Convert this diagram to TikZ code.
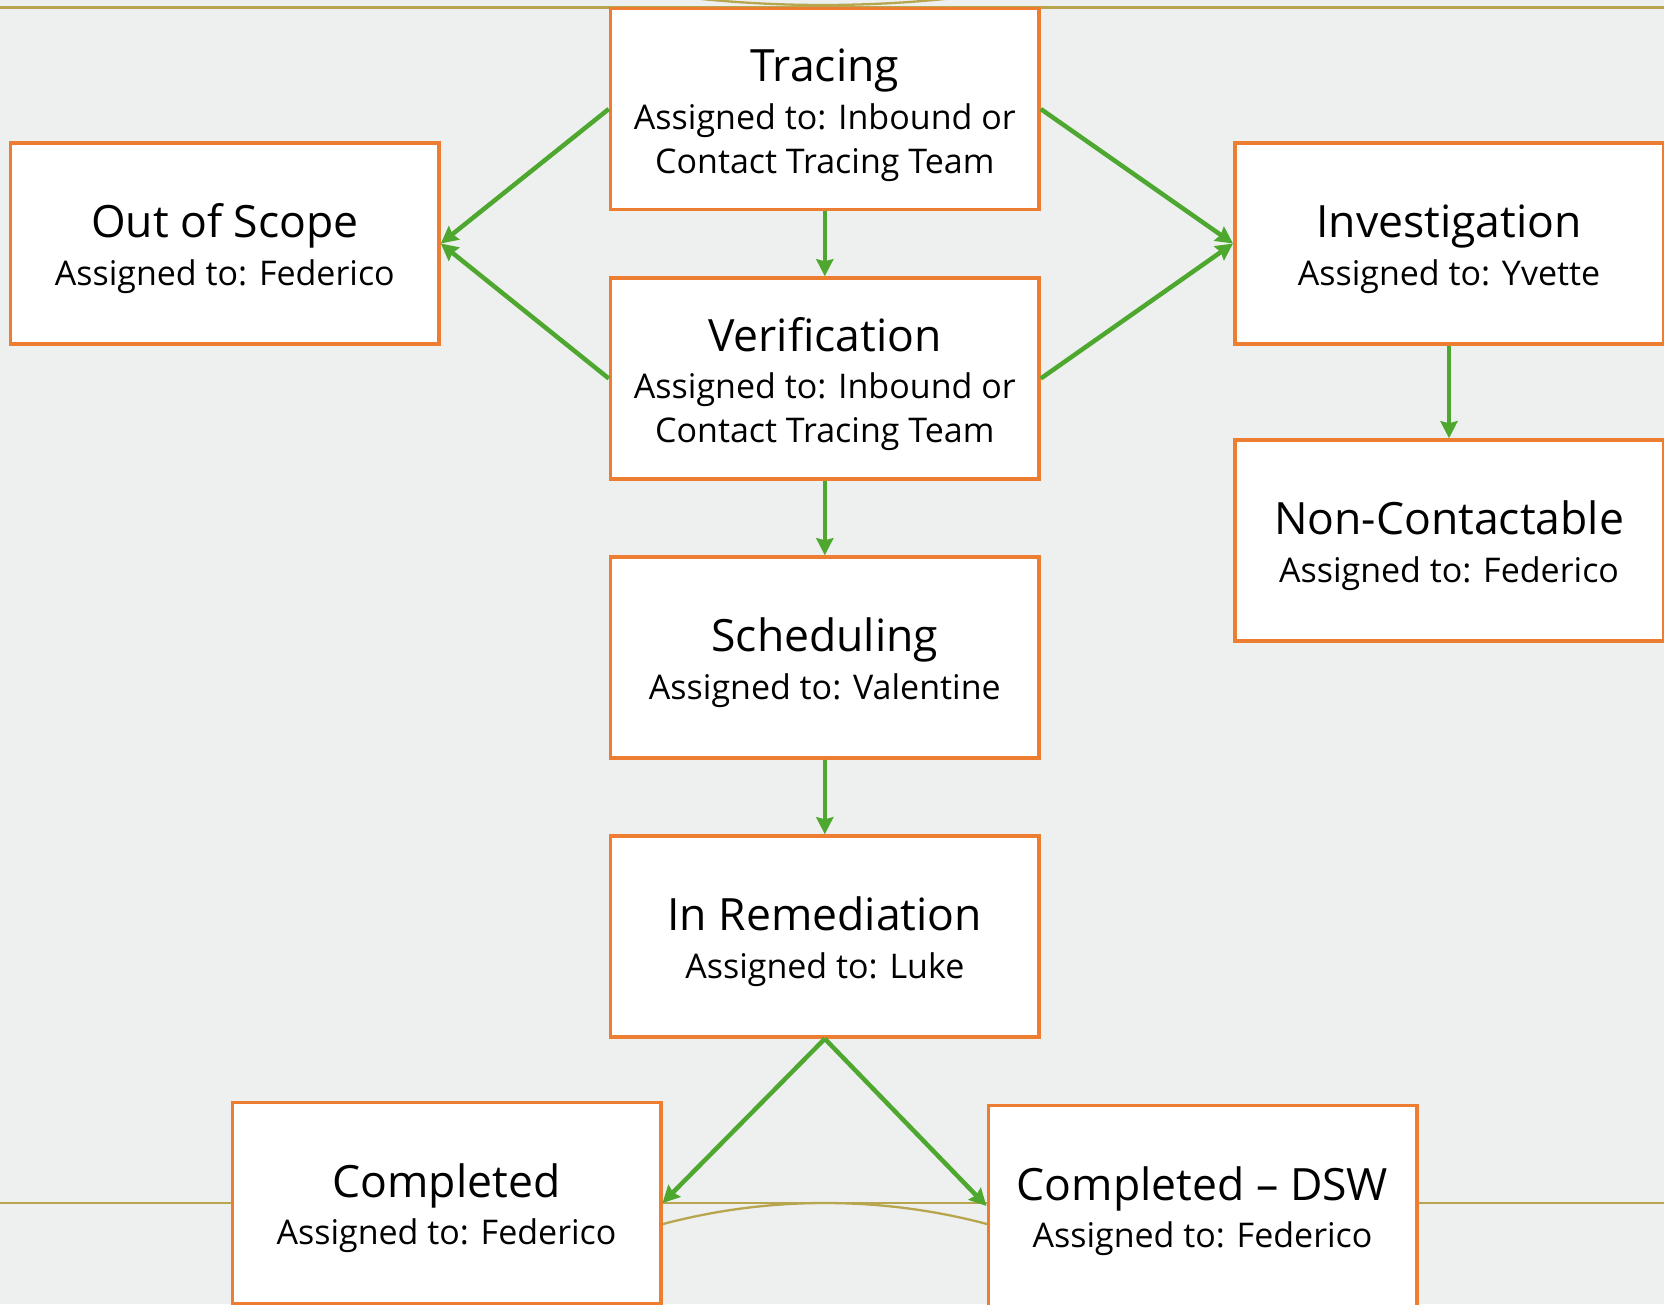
\documentclass[tikz,border=0pt]{standalone}
\usepackage{fontspec}
\setmainfont{Open Sans}
\usetikzlibrary{arrows.meta,calc}
\definecolor{bgc}{RGB}{238,240,239}
\definecolor{boxorange}{RGB}{237,125,49}
\definecolor{flowgreen}{RGB}{78,167,46}
\definecolor{goldline}{RGB}{183,166,78}
\begin{document}
\begin{tikzpicture}[x=1pt,y=-1pt,
  stbox/.style={draw=boxorange,line width=3.5pt,fill=white,minimum width=428.5pt,minimum height=201pt,inner sep=0pt},
  ttl/.style={anchor=base,inner sep=0pt,font=\fontsize{44.5}{50}\selectfont},
  sub/.style={anchor=base,inner sep=0pt,font=\fontsize{34}{40}\selectfont},
  flow/.style={draw=flowgreen,line width=4.5pt,-{Stealth[length=17pt,width=17pt,inset=2pt]}},
  rule/.style={draw=goldline,line width=2.3pt}]
\useasboundingbox (0,0) rectangle (1664,1304);
\fill[bgc] (0,0) rectangle (1664,1304);
\begin{scope}
  \clip (0,0) rectangle (1664,1304);
  \draw[rule] (0,7.5) -- (1664,7.5);
  \draw[rule] (0,1203) -- (1664,1203);
  \draw[rule] (823,-1207) circle[radius=1212pt];
\end{scope}
\begin{scope}
  \clip (600,1150) rectangle (1050,1300);
  \draw[rule] (825,1833) circle[radius=630pt];
\end{scope}

% boxes
\node[stbox] (tracing) at (824.8,109) {};
\node[stbox] (verif) at (824.8,378.5) {};
\node[stbox] (sched) at (824.8,657.5) {};
\node[stbox] (remed) at (824.8,936.5) {};
\node[stbox] (scope) at (224.8,243.5) {};
\node[stbox] (invest) at (1449,243.5) {};
\node[stbox] (noncon) at (1449,540.5) {};
\node[stbox] (compl) at (446.5,1203) {};
\node[stbox] (dsw) at (1202.5,1206) {};

% texts
\node[ttl] (tracingT) at ($(tracing.center)+(0,-27.4)$) {Tracing};
\node[sub] (tracingA) at ($(tracing.center)+(0,20)$) {Assigned to: Inbound or};
\node[sub] (tracingB) at ($(tracing.center)+(0,64)$) {Contact Tracing Team};

\node[ttl] (verifT) at ($(verif.center)+(0,-27.4)$) {Verification};
\node[sub] (verifA) at ($(verif.center)+(0,20)$) {Assigned to: Inbound or};
\node[sub] (verifB) at ($(verif.center)+(0,64)$) {Contact Tracing Team};

\node[ttl] (schedT) at ($(sched.center)+(0,-6)$) {Scheduling};
\node[sub] (schedA) at ($(sched.center)+(0,41.5)$) {Assigned to: Valentine};

\node[ttl] (remedT) at ($(remed.center)+(0,-6)$) {In Remediation};
\node[sub] (remedA) at ($(remed.center)+(0,41.5)$) {Assigned to: Luke};

\node[ttl] (scopeT) at ($(scope.center)+(0,-6)$) {Out of Scope};
\node[sub] (scopeA) at ($(scope.center)+(0,41.5)$) {Assigned to: Federico};

\node[ttl] (investT) at ($(invest.center)+(0,-6)$) {Investigation};
\node[sub] (investA) at ($(invest.center)+(0,41.5)$) {Assigned to: Yvette};

\node[ttl] (nonconT) at ($(noncon.center)+(0,-6)$) {Non-Contactable};
\node[sub] (nonconA) at ($(noncon.center)+(0,41.5)$) {Assigned to: Federico};

\node[ttl] (complT) at ($(compl.center)+(0,-6)$) {Completed};
\node[sub] (complA) at ($(compl.center)+(0,41.5)$) {Assigned to: Federico};

\node[ttl] (dswT) at ($(dsw.center)+(0,-6)$) {Completed – DSW};
\node[sub] (dswA) at ($(dsw.center)+(0,41.5)$) {Assigned to: Federico};

% connectors
\draw[flow] (tracing.west) -- (scope.east);
\draw[flow] (verif.west) -- (scope.east);
\draw[flow] (tracing.east) -- (invest.west);
\draw[flow] (verif.east) -- (invest.west);
\draw[flow] (tracing.south) -- (verif.north);
\draw[flow] (verif.south) -- (sched.north);
\draw[flow] (sched.south) -- (remed.north);
\draw[flow] (invest.south) -- (noncon.north);
\draw[flow] (remed.south) -- (compl.east);
\draw[flow] (remed.south) -- (dsw.west);
\end{tikzpicture}
\end{document}
